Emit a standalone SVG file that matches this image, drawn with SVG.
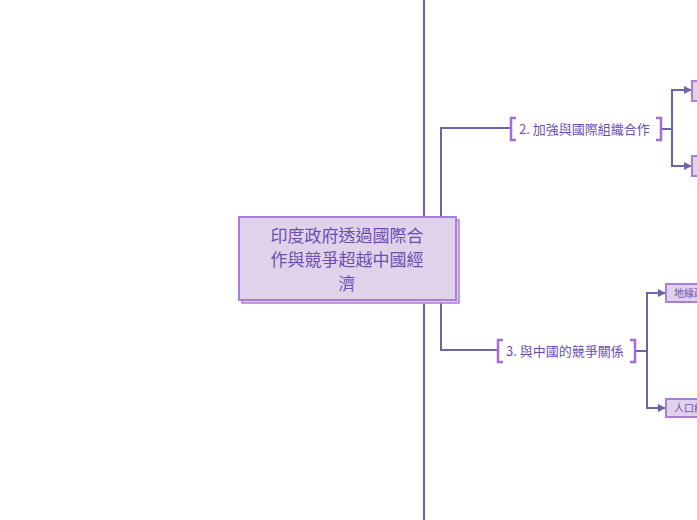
<svg xmlns="http://www.w3.org/2000/svg" width="697" height="520" viewBox="0 0 697 520">
<style>
.c{fill:none;stroke:#6b65a8;stroke-width:2}
.b{fill:none;stroke:#a46bd9;stroke-width:2.5}
.t{font-family:"Noto Sans CJK TC","Noto Sans CJK SC",sans-serif;fill:#6a4fb0}
.n{fill:#e1d2ec;stroke:#a97ed6;stroke-width:2}
</style>
<defs><marker id="a" markerWidth="8" markerHeight="8" refX="7" refY="4" orient="auto" markerUnits="userSpaceOnUse"><path d="M0,0 L8,4 L0,8 z" fill="#6b65a8"/></marker></defs>
<rect width="697" height="520" fill="#fff"/>
<g id="connectors">
<line class="c" x1="424" y1="0" x2="424" y2="520"/>
<path class="c" d="M441,217 V128 H510"/>
<path class="c" d="M441,300 V350 H497"/>
<path class="c" d="M662,129 H672"/>
<path class="c" d="M672,129 V90 H691" marker-end="url(#a)"/>
<path class="c" d="M672,129 V166 H691" marker-end="url(#a)"/>
<path class="c" d="M636,351 H647"/>
<path class="c" d="M647,351 V293 H665" marker-end="url(#a)"/>
<path class="c" d="M647,351 V408 H665" marker-end="url(#a)"/>
</g>
<g id="root">
<rect x="242" y="220" width="217" height="83" fill="#e1d2ec" stroke="#a97ed6" stroke-width="1.5"/>
<rect class="n" x="239" y="217" width="217" height="83"/>
<text class="t" font-size="17" text-anchor="middle"><tspan x="347" y="242">印度政府透過國際合</tspan><tspan x="347" y="266">作與競爭超越中國經</tspan><tspan x="347" y="290">濟</tspan></text>
</g>
<g id="n2">
<path class="b" d="M516,118 H511 V140 H516 M656,118 H661 V140 H656"/>
<text class="t" x="519" y="134" font-size="13">2. 加強與國際組織合作</text>
</g>
<g id="n3">
<path class="b" d="M503,340 H498 V362 H503 M630,340 H635 V362 H630"/>
<text class="t" x="506" y="356" font-size="13">3. 與中國的競爭關係</text>
</g>
<g id="n2a"><rect class="n" x="692" y="81" width="20" height="20"/></g>
<g id="n2b"><rect class="n" x="692" y="156" width="20" height="20"/></g>
<g id="n3a"><rect class="n" x="666" y="284" width="60" height="18"/><text class="t" x="674" y="297" font-size="10">地緣政治</text></g>
<g id="n3b"><rect class="n" x="666" y="399" width="60" height="18"/><text class="t" x="674" y="412" font-size="10">人口紅利</text></g>
</svg>
